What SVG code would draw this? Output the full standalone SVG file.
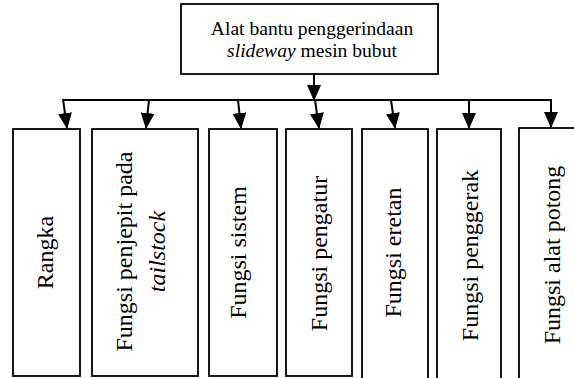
<svg xmlns="http://www.w3.org/2000/svg" width="574" height="378" viewBox="0 0 574 378">
<defs>
<style>
.box{fill:#fff;stroke:#000;stroke-width:1.8}
.ln{stroke:#000;stroke-width:2;fill:none}
</style>
<marker id="ah" markerUnits="userSpaceOnUse" markerWidth="16" markerHeight="14" viewBox="0 0 16 14" refX="15" refY="7" orient="auto">
<path d="M0,0 L16,7 L0,14 Z" fill="#000"/>
</marker>
</defs>
<rect width="574" height="378" fill="#fff"/>
<g id="root">
<rect class="box" x="181" y="4" width="257" height="70"/>
<g font-family="Liberation Serif, Times New Roman, serif" font-size="19.6" text-anchor="middle" fill="#000">
<text x="312" y="35">Alat bantu penggerindaan</text>
<text x="312" y="57"><tspan font-style="italic">slideway</tspan> mesin bubut</text>
</g>
</g>
<g id="connectors">
<line class="ln" x1="314" y1="74" x2="314" y2="100" marker-end="url(#ah)"/>
<line class="ln" x1="63" y1="100" x2="551" y2="100"/>
<line class="ln" x1="63" y1="99" x2="67" y2="128" marker-end="url(#ah)"/>
<line class="ln" x1="149" y1="100" x2="146" y2="128" marker-end="url(#ah)"/>
<line class="ln" x1="238" y1="100" x2="241" y2="128" marker-end="url(#ah)"/>
<line class="ln" x1="315" y1="100" x2="319" y2="128" marker-end="url(#ah)"/>
<line class="ln" x1="391" y1="100" x2="395" y2="128" marker-end="url(#ah)"/>
<line class="ln" x1="469" y1="100" x2="469" y2="128" marker-end="url(#ah)"/>
<line class="ln" x1="551" y1="99" x2="551" y2="127" marker-end="url(#ah)"/>
</g>
<g font-family="Liberation Serif, Times New Roman, serif" font-size="24" text-anchor="middle" fill="#000">
<g id="n1">
<rect class="box" x="13" y="129" width="67" height="247"/>
<text transform="translate(53,252.5) rotate(-90)">Rangka</text>
</g>
<g id="n2">
<rect class="box" x="92" y="129" width="106" height="247"/>
<text transform="translate(132,251.5) rotate(-90)">Fungsi penjepit pada</text>
<text transform="translate(165,251.5) rotate(-90)" font-style="italic">tailstock</text>
</g>
<g id="n3">
<rect class="box" x="209" y="129" width="68" height="247"/>
<text transform="translate(246,252.5) rotate(-90)">Fungsi sistem</text>
</g>
<g id="n4">
<rect class="box" x="286" y="129" width="66" height="247"/>
<text transform="translate(327,253.5) rotate(-90)">Fungsi pengatur</text>
</g>
<g id="n5">
<rect class="box" x="362" y="129" width="66" height="260"/>
<text transform="translate(401,252.5) rotate(-90)">Fungsi eretan</text>
</g>
<g id="n6">
<rect class="box" x="437" y="129" width="64" height="260"/>
<text transform="translate(478,255.5) rotate(-90)">Fungsi penggerak</text>
</g>
<g id="n7">
<rect class="box" x="519" y="128" width="70" height="260"/>
<text transform="translate(560,255) rotate(-90)">Fungsi alat potong</text>
</g>
</g>
</svg>
